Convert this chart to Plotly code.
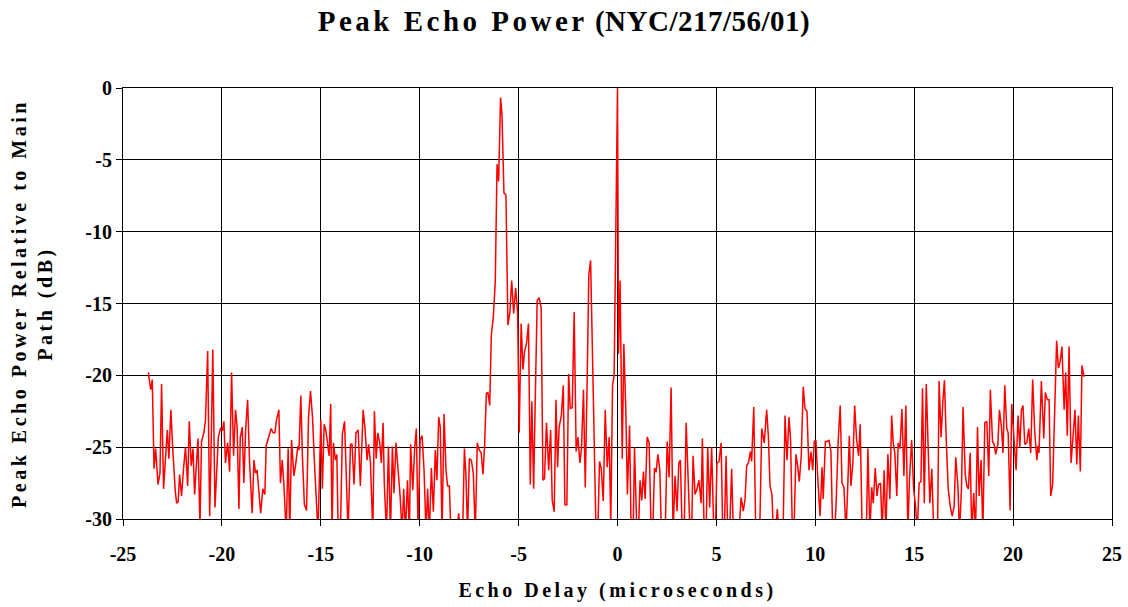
import plotly.graph_objects as go

# Echo delay (microseconds) and peak echo power relative to main path (dB)
delay_us = [
    -23.72, -23.60, -23.52, -23.43, -23.35, -23.23, -23.13, -23.05, -22.95, -22.85,
    -22.76, -22.68, -22.58, -22.49, -22.42, -22.36, -22.29, -22.21, -22.14, -22.04,
    -21.94, -21.84, -21.73, -21.65, -21.55, -21.46, -21.38, -21.30, -21.21, -21.11,
    -21.03, -20.91, -20.83, -20.72, -20.62, -20.56, -20.46, -20.35, -20.27, -20.18,
    -20.07, -19.97, -19.90, -19.82, -19.71, -19.61, -19.51, -19.41, -19.31, -19.23,
    -19.14, -19.07, -18.97, -18.89, -18.80, -18.70, -18.60, -18.47, -18.38, -18.30,
    -18.22, -18.13, -18.04, -17.93, -17.83, -17.76, -17.63,
    -17.51, -17.41, -17.32, -17.24, -17.12, -17.04, -16.95, -16.87, -16.75, -16.65,
    -16.57, -16.48, -16.36, -16.26, -16.16, -16.10, -16.01, -15.93, -15.83, -15.72,
    -15.62, -15.52, -15.42, -15.32, -15.22, -15.14, -15.00, -14.92, -14.83, -14.75,
    -14.68, -14.58, -14.50, -14.43, -14.36, -14.26, -14.19, -14.12, -14.01, -13.91,
    -13.80, -13.72, -13.62, -13.50, -13.42, -13.32, -13.22, -13.11, -13.00, -12.86,
    -12.76, -12.66, -12.58, -12.49, -12.37, -12.29, -12.20, -12.12, -12.02, -11.94,
    -11.85, -11.79, -11.68, -11.58, -11.48, -11.38,
    -11.30, -11.20, -11.09, -10.99, -10.89, -10.81, -10.72, -10.62, -10.52, -10.46,
    -10.35, -10.25, -10.17, -10.08, -9.98, -9.88, -9.78, -9.68, -9.60, -9.51,
    -9.41, -9.31, -9.21, -9.13, -9.04, -8.96, -8.87, -8.77, -8.67, -8.59,
    -8.50, -8.42, -8.28, -8.15, -8.03, -7.95, -7.83, -7.74, -7.66, -7.58,
    -7.49, -7.39, -7.29, -7.19, -7.09, -6.99, -6.89, -6.80, -6.72,
    -6.63, -6.55, -6.46, -6.38, -6.28, -6.18, -6.09, -6.01, -5.91, -5.84,
    -5.74, -5.64, -5.54, -5.44, -5.35, -5.25, -5.15, -5.05, -4.97, -4.87,
    -4.78, -4.70, -4.60, -4.50, -4.41, -4.33, -4.24, -4.16, -4.06, -3.96,
    -3.86, -3.77, -3.69, -3.59, -3.48, -3.38, -3.30, -3.20, -3.11, -3.03,
    -2.95, -2.84, -2.74, -2.66, -2.56, -2.47, -2.39, -2.29, -2.19, -2.09,
    -2.00, -1.90, -1.82, -1.72, -1.63, -1.53, -1.45, -1.36, -1.26, -1.18,
    -1.09, -0.99, -0.91, -0.82, -0.72, -0.62, -0.52, -0.42, -0.34, -0.25,
    -0.17, 0.00, 0.05, 0.13, 0.24, 0.32, 0.42, 0.50, 0.61, 0.69,
    0.79, 0.86, 0.98, 1.06, 1.14, 1.23, 1.31, 1.40, 1.50,
    1.60, 1.70, 1.78, 1.87, 1.95, 2.04, 2.14, 2.22, 2.32, 2.42,
    2.51, 2.61, 2.71, 2.81, 2.91, 3.01, 3.10, 3.18, 3.27, 3.37,
    3.47, 3.57, 3.67, 3.75, 3.82, 3.92, 4.02, 4.12, 4.23, 4.29,
    4.38, 4.48, 4.56, 4.66, 4.76, 4.87, 4.95, 5.03, 5.13, 5.24,
    5.32, 5.40, 5.49, 5.57, 5.67, 5.77, 5.86, 5.94, 6.04, 6.14,
    6.25, 6.36, 6.45, 6.53, 6.62, 6.72, 6.78, 6.89, 6.99, 7.09,
    7.19, 7.29, 7.42, 7.54, 7.63,
    7.71, 7.81, 7.88, 7.98, 8.08, 8.17, 8.27, 8.37, 8.47, 8.57,
    8.67, 8.75, 8.84, 8.92, 9.02, 9.11, 9.19, 9.29, 9.39, 9.48,
    9.58, 9.68, 9.78, 9.87, 9.95, 10.03, 10.13, 10.24, 10.34, 10.40,
    10.51, 10.61, 10.69, 10.79, 10.88, 10.98, 11.06, 11.16, 11.26, 11.35,
    11.45, 11.55, 11.63, 11.72, 11.80, 11.90, 11.99, 12.09, 12.19, 12.27,
    12.37, 12.47, 12.58, 12.66, 12.76, 12.85, 12.93, 13.03, 13.12, 13.20,
    13.30, 13.38, 13.48, 13.57, 13.67, 13.77, 13.86, 13.94,
    14.02, 14.12, 14.19, 14.28, 14.38, 14.48, 14.58, 14.68, 14.76, 14.87,
    14.97, 15.07, 15.15, 15.25, 15.34, 15.42, 15.51, 15.61, 15.71, 15.79,
    15.89, 15.99, 16.08, 16.18, 16.26, 16.36, 16.45, 16.53, 16.62, 16.72,
    16.82, 16.92, 17.02, 17.10, 17.21, 17.29, 17.39, 17.47, 17.58, 17.66,
    17.74, 17.83, 17.91, 18.01, 18.10, 18.20, 18.28, 18.38, 18.47, 18.57,
    18.67, 18.77, 18.85, 18.96, 19.04, 19.12, 19.23, 19.31, 19.41, 19.49,
    19.58, 19.68, 19.75, 19.85, 19.93,
    20.08, 20.15, 20.25, 20.34, 20.42, 20.50, 20.59, 20.69, 20.79, 20.89,
    20.99, 21.09, 21.20, 21.26, 21.31, 21.43, 21.55, 21.63, 21.73, 21.82,
    21.90, 22.00, 22.20, 22.29, 22.37, 22.47, 22.58, 22.66, 22.74, 22.83,
    22.93, 23.03, 23.13, 23.22, 23.30, 23.40, 23.48, 23.59,
]

echo_db = [
    -19.8, -21.0, -20.3, -26.5, -25.1, -27.6, -26.8, -20.6, -27.9, -25.5,
    -23.8, -25.8, -22.4, -25.0, -27.0, -28.0, -28.9, -28.8, -26.9, -28.4,
    -26.5, -25.0, -27.7, -23.2, -26.3, -25.1, -28.3, -26.0, -24.4, -30.5,
    -24.6, -24.0, -23.1, -18.3, -29.8, -26.2, -18.2, -29.2, -26.5, -24.3,
    -23.7, -23.8, -23.2, -26.1, -24.7, -26.7, -19.8, -25.6, -22.4, -23.6,
    -29.3, -24.3, -23.6, -27.5, -23.8, -21.7, -26.1, -29.6, -25.9, -26.8,
    -26.6, -27.9, -29.6, -27.9, -28.3, -24.9, -24.3,
    -23.7, -24.0, -24.0, -23.1, -22.4, -27.5, -25.9, -27.5, -31.0, -25.1,
    -31.0, -24.5, -27.0, -26.1, -24.95, -25.2, -21.4, -25.6, -29.0, -29.4,
    -22.9, -21.1, -22.9, -26.1, -28.4, -31.0, -23.1, -27.9, -23.4, -23.8,
    -24.5, -25.6, -22.0, -31.0, -24.7, -25.9, -25.5, -31.0, -31.0, -24.1,
    -23.2, -26.1, -31.0, -24.8, -24.8, -27.6, -24.0, -23.8, -27.7, -22.4,
    -23.8, -25.9, -24.8, -26.1, -31.0, -22.5, -25.8, -24.0, -24.7, -26.1,
    -23.3, -27.5, -31.0, -24.95, -31.0, -24.95,
    -28.2, -24.7, -26.6, -28.4, -31.0, -27.9, -31.0, -27.3, -31.0, -24.8,
    -28.0, -24.95, -23.7, -31.0, -24.5, -24.2, -26.6, -31.0, -27.9, -31.0,
    -26.45, -29.5, -25.2, -27.3, -22.9, -23.6, -31.0, -22.7, -26.6, -27.7,
    -27.7, -31.0, -31.5, -31.5, -29.6, -31.0, -31.0, -25.1, -27.0, -31.0,
    -25.8, -25.9, -26.8, -31.0, -24.7, -25.2, -25.4, -26.9, -24.9,
    -21.25, -21.2, -22.1, -17.2, -16.0, -13.5, -5.3, -6.5, -0.67, -1.9,
    -7.3, -7.45, -16.5, -15.6, -13.4, -15.7, -13.9, -15.6, -24.0, -16.4,
    -19.6, -18.35, -17.8, -16.4, -27.6, -21.8, -27.9, -21.8, -14.8, -14.6,
    -15.3, -27.3, -27.2, -23.3, -26.6, -23.8, -28.7, -29.5, -21.7, -26.4,
    -23.6, -22.8, -20.7, -29.0, -29.0, -19.9, -22.3, -22.25, -15.6, -25.3,
    -24.3, -26.1, -25.1, -21.0, -27.8, -20.0, -13.0, -12.0, -18.8, -25.3,
    -30.6, -30.6, -26.0, -26.5, -28.75, -22.4, -26.4, -24.3, -30.4, -20.7,
    -20.0, 0.0, -18.5, -13.4, -25.8, -17.8, -22.4, -28.3, -23.5, -31.0,
    -31.0, -25.0, -31.0, -31.0, -27.3, -28.7, -26.7, -28.6, -24.3,
    -24.7, -31.0, -31.0, -26.45, -26.75, -25.5, -26.6, -31.0, -31.0, -30.5,
    -24.6, -27.1, -20.85, -31.0, -27.0, -29.45, -26.1, -25.9, -31.0, -31.0,
    -23.3, -27.3, -31.0, -31.0, -25.6, -28.3, -27.9, -27.3, -28.9, -24.4,
    -31.0, -31.0, -25.0, -29.2, -25.0, -31.0, -31.0, -26.1, -26.0, -24.7,
    -31.0, -31.0, -25.6, -31.0, -31.0, -26.5, -31.0, -31.0, -31.0, -31.0,
    -28.5, -29.45, -28.6, -26.3, -26.1, -25.3, -26.0, -22.2, -31.0, -31.0,
    -31.0, -23.7, -24.7, -22.4, -24.3,
    -27.7, -28.3, -31.0, -31.0, -29.3, -31.0, -31.0, -31.0, -22.8, -25.9,
    -22.9, -24.5, -31.0, -31.0, -25.5, -26.3, -27.4, -25.6, -20.8, -22.3,
    -22.5, -26.6, -25.3, -26.6, -24.6, -24.5, -27.3, -29.8, -26.4, -28.6,
    -24.6, -24.6, -24.5, -25.3, -31.0, -31.0, -28.6, -24.5, -22.1, -27.5,
    -27.8, -31.0, -28.2, -24.2, -27.7, -26.1, -22.1, -24.5, -25.6, -23.4,
    -31.0, -31.0, -31.0, -25.1, -31.0, -27.8, -28.9, -26.45, -28.4, -27.6,
    -27.5, -31.0, -26.6, -31.0, -25.5, -28.6, -22.8, -24.7,
    -25.4, -28.4, -24.7, -25.1, -22.35, -27.0, -22.1, -31.0, -27.3, -24.5,
    -27.9, -29.1, -31.0, -27.5, -27.4, -20.9, -28.9, -20.6, -25.6, -28.9,
    -26.5, -31.0, -31.0, -31.0, -20.4, -24.3, -21.8, -20.35, -24.5, -27.9,
    -29.1, -29.8, -29.1, -25.7, -27.7, -31.0, -27.9, -22.2, -26.9, -27.7,
    -27.9, -25.4, -31.0, -28.2, -31.0, -23.6, -28.4, -25.9, -31.0, -23.3,
    -23.2, -27.0, -21.0, -24.6, -24.8, -25.5, -24.8, -22.4, -23.6, -25.4,
    -20.7, -23.7, -24.0, -29.4, -22.0,
    -25.3, -26.6, -22.8, -25.0, -22.4, -22.1, -24.8, -24.7, -23.7, -25.4,
    -20.3, -23.8, -25.9, -24.9, -25.4, -20.4, -24.4, -21.2, -21.7, -21.7,
    -28.4, -27.6, -17.6, -19.5, -19.1, -18.0, -22.4, -19.8, -24.2, -18.0,
    -26.1, -24.0, -22.4, -26.2, -22.8, -26.7, -19.3, -20.1,
]

x_tick_vals = [-25, -20, -15, -10, -5, 0, 5, 10, 15, 20, 25]
x_tick_text = ["-25", "-20", "-15", "-10", "-5", "0", "5", "10", "15", "20", "25"]
y_tick_vals = [0, -5, -10, -15, -20, -25, -30]
y_tick_text = ["0", "-5", "-10", "-15", "-20", "-25", "-30"]

title_main = "Peak Echo Power"
title_id = "(NYC/217/56/01)"
x_title = "Echo Delay (microseconds)"
y_title_l1 = "Peak Echo Power Relative to Main"
y_title_l2 = "Path (dB)"

SERIF = "Liberation Serif, Times New Roman, serif"

fig = go.Figure()
fig.add_trace(go.Scatter(
    x=delay_us, y=echo_db, mode="lines",
    line=dict(color="#FF0000", width=1.5),
    showlegend=False, hoverinfo="skip",
))

fig.update_layout(
    width=1128, height=607,
    margin=dict(l=123, r=16, t=88, b=88, autoexpand=False),
    paper_bgcolor="white", plot_bgcolor="white",
    font=dict(family=SERIF, color="black"),
    title=dict(
        text=("<span style='letter-spacing:3.5px'>" + title_main + "</span> "
              "<span style='letter-spacing:0.5px'>" + title_id + "</span>"),
        x=0.5, xanchor="center", y=0.965, yanchor="middle",
        font=dict(family=SERIF, size=29, color="black", weight="bold"),
        automargin=False,
    ),
)

fig.update_xaxes(
    range=[-25, 25], tickvals=x_tick_vals, ticktext=x_tick_text,
    tickfont=dict(family=SERIF, size=20, color="black", weight="bold"),
    ticklabelstandoff=11,
    showgrid=True, gridcolor="black", gridwidth=1,
    zeroline=False, automargin=False,
    showline=True, linecolor="black", linewidth=1, mirror=True,
    ticks="outside", ticklen=6, tickcolor="black", tickwidth=1,
    title=dict(
        text="<span style='letter-spacing:3.5px'>" + x_title + "</span>",
        font=dict(family=SERIF, size=20, color="black", weight="bold"), standoff=18,
    ),
)
fig.update_yaxes(
    range=[-30, 0], tickvals=y_tick_vals, ticktext=y_tick_text,
    tickfont=dict(family=SERIF, size=20, color="black", weight="bold"),
    showgrid=True, gridcolor="black", gridwidth=1,
    zeroline=False, automargin=False,
    showline=True, linecolor="black", linewidth=1, mirror=True,
    ticks="outside", ticklen=6, tickcolor="black", tickwidth=1,
    title=dict(
        text="<span style='letter-spacing:3.5px'>" + y_title_l1 + "<br>" + y_title_l2 + "</span>",
        font=dict(family=SERIF, size=20, color="black", weight="bold"), standoff=27,
    ),
)

fig.write_html("out.html", config={"displayModeBar": False},
               post_script="document.body.style.margin='0px';")
